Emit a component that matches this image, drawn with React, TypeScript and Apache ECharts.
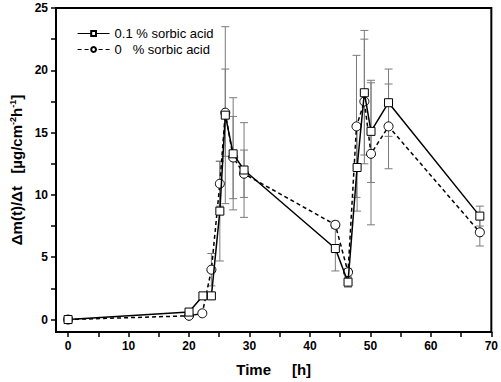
import React, { useEffect, useRef } from "react";
import * as echarts from "echarts";

const seriesNames = ["0.1 % sorbic acid", "0   % sorbic acid"];
const times1 = [0, 20, 22.3, 23.7, 25.1, 26, 27.3, 29.1, 44.2, 46.3, 47.8, 49, 50.1, 53, 68.1];
const vals1 = [0, 0.6, 1.9, 1.9, 8.7, 16.4, 13.3, 12.0, 5.7, 3.0, 12.2, 18.2, 15.1, 17.4, 8.3];
const err1 = [0, 0, 0, 0, 4.0, 7.1, 4.5, 3.8, 1.8, 0.4, 3.5, 5.0, 4.1, 2.7, 0.8];
const times2 = [0, 20, 22.2, 23.7, 25.1, 26, 27.3, 29.1, 44.2, 46.3, 47.7, 49, 50.1, 53, 68.1];
const vals2 = [0, 0.3, 0.5, 4.0, 10.9, 16.6, 13.0, 11.7, 7.6, 3.8, 15.5, 17.5, 13.3, 15.5, 7.0];
const err2 = [0, 0, 0, 1.3, 1.8, 3.5, 3.3, 1.9, 0.3, 0.3, 5.7, 5.0, 5.7, 3.4, 1.1];
const xLabels = [0, 10, 20, 30, 40, 50, 60, 70];
const xTickVals = [0, 5, 10, 15, 20, 25, 30, 35, 40, 45, 50, 55, 60, 65, 70];
const yLabels = [0, 5, 10, 15, 20, 25];
const yTickVals = [0, 2.5, 5, 7.5, 10, 12.5, 15, 17.5, 20, 22.5, 25];

const FONT = "Liberation Sans, Arial, sans-serif";

function errorBarSeries(times: number[], vals: number[], errs: number[]) {
  return {
    type: "custom",
    silent: true,
    z: 1,
    data: times.map((t, i) => [t, vals[i], errs[i]]),
    renderItem: (params: any, api: any) => {
      const x = api.value(0);
      const y = api.value(1);
      const e = api.value(2);
      if (!e) return { type: "group", children: [] };
      const top = api.coord([x, y + e]);
      const bot = api.coord([x, y - e]);
      const w = 4;
      const style = { stroke: "#7a7a7a", lineWidth: 1 };
      return {
        type: "group",
        children: [
          { type: "line", shape: { x1: top[0], y1: top[1], x2: bot[0], y2: bot[1] }, style },
          { type: "line", shape: { x1: top[0] - w, y1: top[1], x2: top[0] + w, y2: top[1] }, style },
          { type: "line", shape: { x1: bot[0] - w, y1: bot[1], x2: bot[0] + w, y2: bot[1] }, style },
        ],
      };
    },
  };
}

export default function App() {
  const ref = useRef<HTMLDivElement>(null);
  useEffect(() => {
    if (!ref.current) return;
    const chart = echarts.init(ref.current, null, { renderer: "svg" });
    chart.setOption({
      animation: false,
      backgroundColor: "#ffffff",
      textStyle: { fontFamily: FONT },
      grid: {
        left: 54,
        right: 9,
        top: 8,
        bottom: 50,
        show: true,
        borderColor: "#000",
        borderWidth: 2,
      },
      legend: {
        orient: "vertical",
        left: 75,
        top: 25,
        padding: 2,
        itemWidth: 32,
        itemHeight: 6,
        itemGap: 3,
        lineStyle: { width: 1.2 },
        textStyle: { fontSize: 13, color: "#000", fontFamily: FONT },
        data: seriesNames,
      },
      xAxis: {
        type: "value",
        min: -2,
        max: 70,
        name: "Time     [h]",
        nameLocation: "middle",
        nameGap: 30,
        nameTextStyle: { fontSize: 15, fontWeight: "bold", color: "#000", fontFamily: FONT },
        axisLine: { show: true, onZero: false, lineStyle: { color: "#000", width: 2 } },
        axisTick: { show: true, customValues: xTickVals, length: 5, lineStyle: { color: "#000", width: 1.5 } },
        axisLabel: { customValues: xLabels, fontSize: 12, fontWeight: "bold", color: "#000", margin: 8 },
        splitLine: { show: false },
      },
      yAxis: {
        type: "value",
        min: -1,
        max: 25,
        name: "{a|Δm(t)/Δt   [µg/cm}{s|-2}{a|h}{s|-1}{a|]}",
        nameLocation: "middle",
        nameGap: 32,
        nameRotate: 90,
        nameTextStyle: {
          color: "#000",
          rich: {
            a: { fontSize: 15, fontWeight: "bold", fontFamily: FONT, color: "#000" },
            s: { fontSize: 9, fontWeight: "bold", fontFamily: FONT, color: "#000", verticalAlign: "top", padding: [0, 0, 7, 0] },
          },
        },
        axisLine: { show: true, onZero: false, lineStyle: { color: "#000", width: 2 } },
        axisTick: { show: true, customValues: yTickVals, length: 5, lineStyle: { color: "#000", width: 1.5 } },
        axisLabel: { customValues: yLabels, fontSize: 12, fontWeight: "bold", color: "#000", margin: 8 },
        splitLine: { show: false },
      },
      series: [
        errorBarSeries(times1, vals1, err1),
        errorBarSeries(times2, vals2, err2),
        {
          name: seriesNames[0],
          type: "line",
          z: 3,
          data: times1.map((t, i) => [t, vals1[i]]),
          symbol: "rect",
          symbolSize: 8,
          showAllSymbol: true,
          lineStyle: { color: "#000", width: 1.5, type: "solid" },
          itemStyle: { color: "#fff", borderColor: "#000", borderWidth: 1 },
        },
        {
          name: seriesNames[1],
          type: "line",
          z: 2,
          data: times2.map((t, i) => [t, vals2[i]]),
          symbol: "circle",
          symbolSize: 9,
          showAllSymbol: true,
          lineStyle: { color: "#000", width: 1.5, type: [4, 3] },
          itemStyle: { color: "#fff", borderColor: "#000", borderWidth: 1 },
        },
      ],
    });
    return () => chart.dispose();
  }, []);
  return <div ref={ref} style={{ width: 501, height: 382, position: "absolute", left: 0, top: 0 }} />;
}
